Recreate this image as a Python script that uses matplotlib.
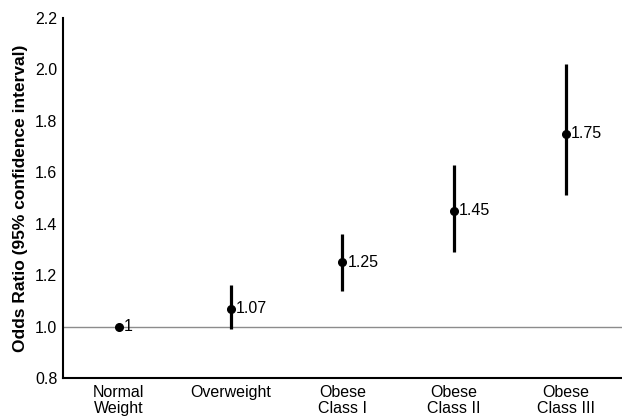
import matplotlib
matplotlib.use('Agg')
import matplotlib.pyplot as plt

plt.rcParams['font.family'] = ['Liberation Sans', 'DejaVu Sans']

categories = ['Normal\nWeight', 'Overweight', 'Obese\nClass I', 'Obese\nClass II', 'Obese\nClass III']
odds = [1.0, 1.07, 1.25, 1.45, 1.75]
ci_low = [1.0, 0.99, 1.14, 1.29, 1.51]
ci_high = [1.0, 1.16, 1.36, 1.63, 2.02]
labels = ['1', '1.07', '1.25', '1.45', '1.75']

fig = plt.figure(figsize=(6.22, 4.2), dpi=100)
ax = fig.add_axes([0.101, 0.1, 0.899, 0.857])

x = list(range(len(categories)))
ax.axhline(1.0, color='#8c8c8c', linewidth=1, zorder=1)
err = [[o - l for o, l in zip(odds, ci_low)], [h - o for o, h in zip(odds, ci_high)]]
ax.errorbar(x, odds, yerr=err, fmt='o', color='black', markersize=5.5,
            elinewidth=2.3, capsize=0, zorder=3)
for xi, yi, t in zip(x, odds, labels):
    ax.annotate(t, (xi, yi), xytext=(3.5, 0), textcoords='offset points',
                ha='left', va='center', fontsize=11.5)

ax.set_xlim(-0.5, 4.5)
ax.set_ylim(0.8, 2.2)
ax.set_yticks([0.8, 1.0, 1.2, 1.4, 1.6, 1.8, 2.0, 2.2])
ax.set_yticklabels(['0.8', '1.0', '1.2', '1.4', '1.6', '1.8', '2.0', '2.2'])
ax.set_xticks(x)
ax.set_xticklabels(categories, linespacing=1.1)
ax.tick_params(axis='both', length=0, labelsize=11.5)
ax.tick_params(axis='x', pad=5)
ax.tick_params(axis='y', pad=4)
ax.set_ylabel('Odds Ratio (95% confidence interval)', fontsize=12.5, fontweight='bold', labelpad=5)
ax.spines['top'].set_visible(False)
ax.spines['right'].set_visible(False)
ax.spines['left'].set_linewidth(1.5)
ax.spines['bottom'].set_linewidth(1.5)

fig.savefig('out.png', dpi=100)
